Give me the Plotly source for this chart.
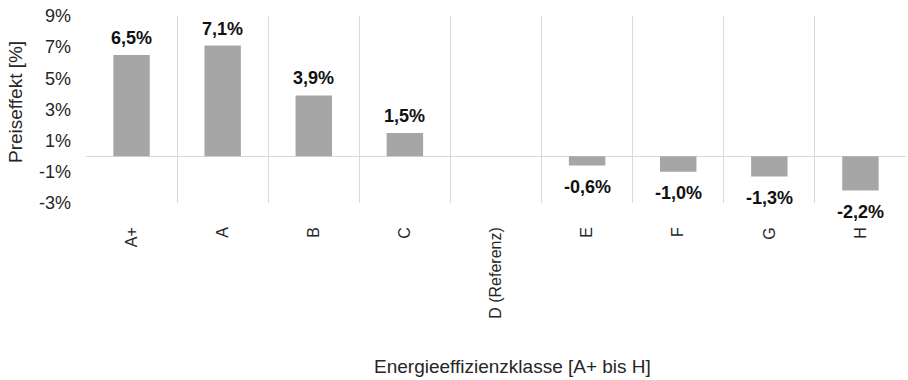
import plotly.graph_objects as go

categories = ["A+", "A", "B", "C", "D (Referenz)", "E", "F", "G", "H"]
values = [6.5, 7.1, 3.9, 1.5, None, -0.6, -1.0, -1.3, -2.2]
y_ticks = [-3, -1, 1, 3, 5, 7, 9]
y_tick_labels = [f"{v}%" for v in y_ticks]
labels = ["" if v is None else f"{v:.1f}%".replace(".", ",") for v in values]

FONT = "Liberation Sans, Arial, sans-serif"
W, H = 908, 380
L, R, T, B = 86, 2, 16, 177

fig = go.Figure(go.Bar(
    x=categories, y=values,
    marker=dict(color="#a6a6a6", line=dict(width=0)),
    cliponaxis=False, width=0.4, hoverinfo="skip",
))

value_annotations = []
for c, v, t in zip(categories, values, labels):
    if v is None:
        continue
    pos = v >= 0
    value_annotations.append(dict(
        x=c, y=v, xref="x", yref="y", text=t, showarrow=False,
        xanchor="center", yanchor="bottom" if pos else "top",
        yshift=5 if pos else -9,
        font=dict(family=FONT, size=18, color="#111111", weight="bold"),
    ))

pw = W - L - R
ph = H - T - B
fig.update_layout(
    width=W, height=H, margin=dict(l=L, r=R, t=T, b=B),
    paper_bgcolor="white", plot_bgcolor="white", showlegend=False,
    font=dict(family=FONT, color="#262626"),
    xaxis=dict(
        type="category", tickangle=-90, showgrid=True, tickson="boundaries",
        gridcolor="#d9d9d9", gridwidth=1, ticks="", showline=False,
        tickfont=dict(family=FONT, size=16, color="#262626"),
        ticklabelstandoff=20,
    ),
    yaxis=dict(
        range=[-3, 9], tickvals=y_ticks, ticktext=y_tick_labels,
        showgrid=False, zeroline=True, zerolinecolor="#d9d9d9", zerolinewidth=1,
        ticks="", showline=False,
        tickfont=dict(family=FONT, size=18, color="#262626"),
        ticklabelstandoff=14,
    ),
    annotations=value_annotations + [
        dict(text="Energieeffizienzklasse [A+ bis H]", xref="paper", yref="paper",
             x=(512 - L) / pw, y=-(366 - (T + ph)) / ph, showarrow=False,
             xanchor="center", yanchor="middle",
             font=dict(family=FONT, size=19, color="#262626")),
        dict(text="Preiseffekt [%]", xref="paper", yref="paper",
             x=(16 - L) / pw, y=(203 - 102) / ph, textangle=-90, showarrow=False,
             xanchor="center", yanchor="middle",
             font=dict(family=FONT, size=19, color="#262626")),
    ],
)

fig.write_html(
    "out.html",
    config={"displayModeBar": False},
    post_script="document.body.style.margin='0';document.body.style.overflow='hidden';",
)
